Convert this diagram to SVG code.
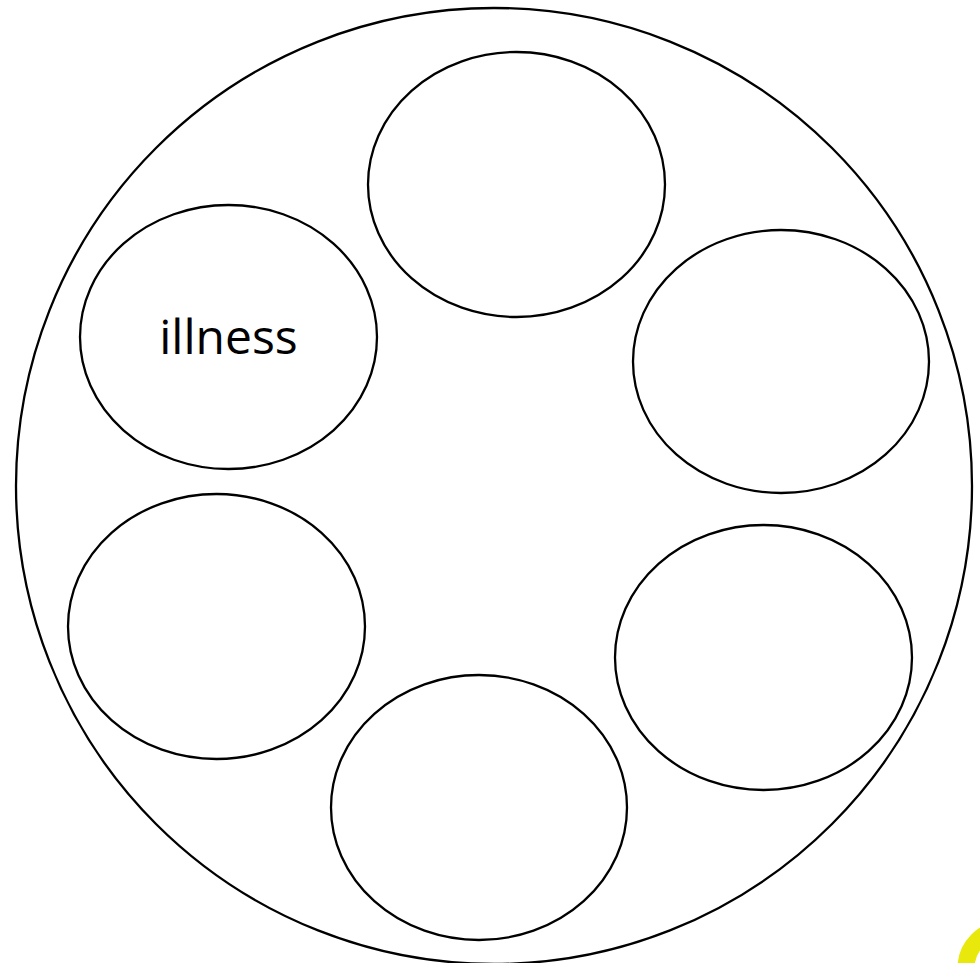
<svg xmlns="http://www.w3.org/2000/svg" width="980" height="963" viewBox="0 0 980 963">
<style>
.n{fill:#fff;stroke:#000;stroke-width:2.3}
.t{font-family:"Open Sans","Noto Sans",sans-serif;font-size:48px;fill:#000;text-anchor:middle}
</style>
<rect width="980" height="963" fill="#fff"/>
<g id="outer"><circle class="n" cx="494" cy="486" r="478"/></g>
<g id="n1"><ellipse class="n" cx="516.5" cy="184.5" rx="148.5" ry="132.5"/></g>
<g id="n2"><ellipse class="n" cx="228.5" cy="337" rx="148.5" ry="132"/><text class="t" x="228.5" y="354">illness</text></g>
<g id="n3"><ellipse class="n" cx="781" cy="361.5" rx="148" ry="131.5"/></g>
<g id="n4"><ellipse class="n" cx="216.5" cy="626.5" rx="148.5" ry="132.5"/></g>
<g id="n5"><ellipse class="n" cx="763.5" cy="657.5" rx="148.5" ry="132.5"/></g>
<g id="n6"><ellipse class="n" cx="479" cy="807.5" rx="148" ry="132.5"/></g>
<g id="connectors"></g>
<circle cx="1005" cy="968" r="39" fill="none" stroke="#e8e80c" stroke-width="17"/>
</svg>
